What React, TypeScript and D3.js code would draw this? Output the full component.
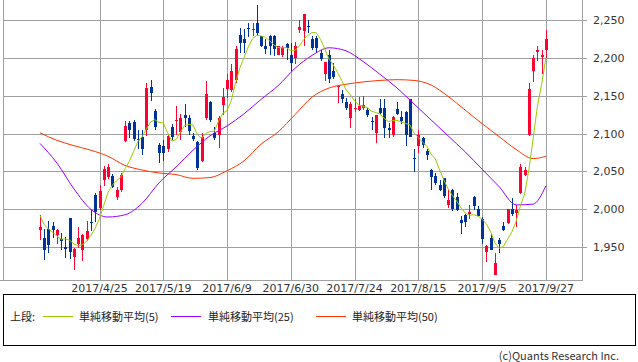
import React from 'react';
import * as d3 from 'd3';

// OHLC, one entry per trading day (2017/4/5 .. 2017/9/27)
const opens = [
  1973, 1963, 1974, 1978, 1966, 1961, 1950, 1989, 1937, 1955, 1946, 1961, 1984, 2019, 2002, 2039, 2043, 2044, 2017, 2026,
  2090, 2114, 2115, 2093, 2096, 2105, 2162, 2130, 2085, 2084, 2079, 2108, 2116, 2102, 2125, 2120, 2097, 2089, 2064, 2120,
  2142, 2101, 2098, 2138, 2159, 2158, 2171, 2230, 2225, 2239, 2236, 2246, 2228, 2215, 2229, 2229, 2204, 2203, 2218, 2204,
  2200, 2237, 2235, 2242, 2225, 2226, 2206, 2179, 2203, 2182, 2162, 2152, 2142, 2120, 2133, 2131, 2134, 2131, 2116, 2101,
  2134, 2134, 2107, 2098, 2132, 2122, 2129, 2145, 2068, 2083, 2094, 2077, 2052, 2044, 2032, 2041, 2006, 2026, 2017, 1986,
  1993, 1994, 2017, 2000, 1988, 1944, 1962, 1914, 1960, 1978, 1982, 2000, 1995, 2021, 2046, 2098, 2182, 2208, 2201, 2210,
];
const highs = [
  1993, 1974, 1985, 1984, 1974, 1969, 1964, 1989, 1949, 1977, 1968, 1985, 1999, 2022, 2032, 2057, 2060, 2047, 2030, 2048,
  2117, 2117, 2118, 2105, 2105, 2167, 2170, 2133, 2087, 2092, 2100, 2112, 2136, 2126, 2139, 2125, 2101, 2090, 2101, 2169,
  2143, 2108, 2123, 2160, 2178, 2191, 2215, 2239, 2238, 2246, 2246, 2269, 2229, 2225, 2230, 2230, 2216, 2216, 2219, 2219,
  2221, 2250, 2258, 2250, 2228, 2228, 2210, 2194, 2210, 2193, 2164, 2158, 2147, 2141, 2145, 2148, 2149, 2134, 2122, 2125,
  2145, 2145, 2114, 2123, 2141, 2130, 2130, 2145, 2079, 2105, 2096, 2079, 2053, 2048, 2039, 2042, 2026, 2027, 2021, 1991,
  1994, 2006, 2018, 2004, 1990, 1953, 1968, 1942, 1962, 1983, 2001, 2015, 2006, 2060, 2056, 2167, 2204, 2215, 2210, 2236,
];
const lows = [
  1960, 1933, 1943, 1962, 1955, 1947, 1936, 1935, 1920, 1949, 1932, 1958, 1971, 1984, 1999, 2031, 2040, 2028, 2012, 2023,
  2089, 2094, 2090, 2079, 2072, 2097, 2143, 2105, 2061, 2064, 2076, 2092, 2098, 2092, 2108, 2098, 2090, 2052, 2063, 2118,
  2115, 2092, 2081, 2125, 2147, 2155, 2167, 2206, 2206, 2227, 2229, 2228, 2214, 2205, 2204, 2202, 2203, 2201, 2197, 2182,
  2191, 2233, 2215, 2232, 2210, 2206, 2195, 2169, 2167, 2172, 2140, 2140, 2131, 2107, 2129, 2130, 2131, 2122, 2105, 2087,
  2125, 2094, 2094, 2096, 2125, 2113, 2083, 2096, 2049, 2074, 2081, 2065, 2026, 2032, 2024, 2015, 2002, 1998, 1998, 1968,
  1977, 1988, 1999, 1990, 1955, 1931, 1946, 1914, 1942, 1972, 1981, 1991, 1977, 2020, 2044, 2097, 2168, 2196, 2178, 2200,
];
const closes = [
  1977, 1946, 1953, 1973, 1973, 1959, 1948, 1944, 1948, 1962, 1966, 1971, 1982, 1997, 2024, 2053, 2056, 2030, 2026, 2046,
  2110, 2105, 2093, 2091, 2079, 2160, 2153, 2108, 2074, 2075, 2097, 2096, 2118, 2121, 2121, 2104, 2093, 2055, 2096, 2152,
  2118, 2094, 2121, 2148, 2170, 2183, 2211, 2219, 2219, 2238, 2238, 2233, 2215, 2211, 2215, 2211, 2215, 2213, 2213, 2193,
  2215, 2241, 2257, 2240, 2213, 2213, 2198, 2194, 2172, 2175, 2163, 2145, 2134, 2139, 2134, 2136, 2137, 2125, 2115, 2125,
  2127, 2107, 2105, 2122, 2126, 2116, 2098, 2096, 2066, 2098, 2085, 2072, 2043, 2035, 2026, 2018, 2013, 2000, 1999, 1982,
  1983, 1997, 2004, 1991, 1961, 1952, 1947, 1929, 1955, 1973, 2000, 1994, 1999, 2056, 2052, 2159, 2200, 2210, 2203, 2225,
];

// 5-day average for the first days (needs closes before the visible range)
const ma5Lead = [1992, 1980, 1974, 1970];

// 25 / 50 day averages
const maIdx = [0, 4, 8, 12, 16, 20, 24, 28, 32, 36, 40, 44, 48, 52, 56, 60, 64, 68, 72, 76, 80, 84, 88, 92, 96, 100, 104, 108, 112, 116, 119];
const ma25 = [2087, 2061, 2027, 2000, 1990, 1993, 2008, 2035, 2056, 2078, 2097, 2110, 2126, 2145, 2163, 2186, 2203, 2213, 2209, 2195, 2178, 2160, 2139, 2118, 2097, 2076, 2053, 2030, 2006, 2007, 2031];
const ma50 = [2101, 2091, 2084, 2078, 2070, 2058, 2052, 2048, 2046, 2041, 2042, 2051, 2064, 2086, 2102, 2125, 2148, 2160, 2165, 2168, 2170, 2171, 2170, 2164, 2149, 2131, 2113, 2096, 2079, 2067, 2070];

const yTicks = [1950, 2000, 2050, 2100, 2150, 2200, 2250];
const xTickIdx = [14, 29, 44, 59, 74, 89, 104, 119];
const xTickLabels = ['2017/4/25', '2017/5/19', '2017/6/9', '2017/6/30', '2017/7/24', '2017/8/15', '2017/9/5', '2017/9/27'];

const legendLabels = ['単純移動平均(5)', '単純移動平均(25)', '単純移動平均(50)'];
const legendColors = ['#99cc00', '#9900ff', '#ff3300'];

const UP = '#ff0033';
const DOWN = '#003399';
const GRID = '#a0a0a0';

export default function App() {
  const left = 3;
  const right = 582;
  const top = 0;
  const bottom = 280;

  const x = d3.scaleLinear().domain([-8.7, 127.5]).range([left, right]);
  const y = d3.scaleLinear().domain([1907, 2276]).range([bottom, top]);

  const ma5 = closes.map((c, i) => (i < 4 ? ma5Lead[i] : (d3.mean(closes.slice(i - 4, i + 1)) as number)));

  const line5 = d3
    .line<number>()
    .x((d, i) => x(i))
    .y((d) => y(d));
  const lineMa = d3
    .line<[number, number]>()
    .x((d) => x(d[0]))
    .y((d) => y(d[1]))
    .curve(d3.curveMonotoneX);

  const px = (v: number) => Math.round(v) + 0.5;

  const legendLineX = [43, 171, 316];
  const legendTextX = [79, 208, 352];

  return (
    <svg
      width={638}
      height={362}
      style={{ position: 'absolute', left: 0, top: 0, background: '#fff' }}
    >
      {/* grid + frame (left, right, bottom) */}
      <g shapeRendering="crispEdges" stroke={GRID} strokeWidth={1}>
        {yTicks.map((t) => (
          <line key={t} x1={left} x2={right + 5} y1={px(y(t))} y2={px(y(t))} />
        ))}
        {xTickIdx.map((t) => (
          <line key={t} x1={px(x(t))} x2={px(x(t))} y1={top} y2={bottom} />
        ))}
        <line x1={left + 0.5} x2={left + 0.5} y1={top} y2={bottom} />
        <line x1={right + 0.5} x2={right + 0.5} y1={top} y2={bottom} />
        <line x1={0} x2={right + 1} y1={bottom + 0.5} y2={bottom + 0.5} />
      </g>

      {/* candles */}
      <g shapeRendering="crispEdges">
        {closes.map((c, i) => {
          const o = opens[i];
          const col = c >= o ? UP : DOWN;
          const cx = Math.round(x(i));
          const yTop = Math.round(y(Math.max(o, c)));
          const yBot = Math.round(y(Math.min(o, c)));
          return (
            <g key={i}>
              <line x1={cx + 0.5} x2={cx + 0.5} y1={y(highs[i])} y2={y(lows[i])} stroke={col} strokeWidth={1} />
              <rect x={cx - 1} y={yTop} width={3} height={Math.max(1, yBot - yTop)} fill={col} />
            </g>
          );
        })}
      </g>

      {/* moving averages */}
      <path d={lineMa(maIdx.map((d, k) => [d, ma50[k]]) as [number, number][]) as string} fill="none" stroke={legendColors[2]} strokeWidth={1} />
      <path d={lineMa(maIdx.map((d, k) => [d, ma25[k]]) as [number, number][]) as string} fill="none" stroke={legendColors[1]} strokeWidth={1} />
      <path d={line5(ma5) as string} fill="none" stroke={legendColors[0]} strokeWidth={1} />

      {/* axes labels */}
      <g fontFamily="DejaVu Sans" fontSize={11} fill="#333">
        {yTicks.map((t) => (
          <text key={t} x={593} y={y(t)} dy="0.36em">
            {d3.format(',')(t)}
          </text>
        ))}
        {xTickIdx.map((t, k) => (
          <text key={t} x={x(t)} y={292} textAnchor="middle">
            {xTickLabels[k]}
          </text>
        ))}
      </g>

      {/* legend */}
      <rect x={3.5} y={294.5} width={632} height={51} fill="none" stroke="#000" strokeWidth={1} shapeRendering="crispEdges" />
      <g fontFamily="Noto Sans CJK JP" fontSize={11} fill="#222">
        <text x={10} y={321}>上段:</text>
        {legendLabels.map((l, k) => (
          <g key={l}>
            <line x1={legendLineX[k]} x2={legendLineX[k] + 30} y1={316.5} y2={316.5} stroke={legendColors[k]} strokeWidth={1} />
            <text x={legendTextX[k]} y={321}>{l}</text>
          </g>
        ))}
      </g>
      <text x={619} y={360} textAnchor="end" fontFamily="Noto Sans CJK JP" fontSize={11} fill="#333">
        (c)Quants Research Inc.
      </text>
    </svg>
  );
}
